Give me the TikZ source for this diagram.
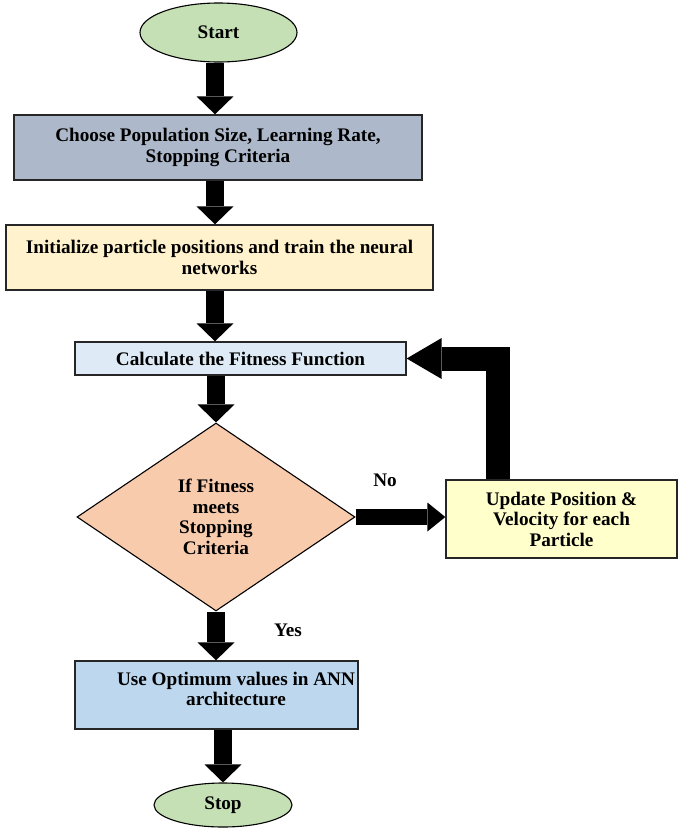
\documentclass[tikz,border=0pt]{standalone}
\usepackage{fontspec}
\setmainfont{Liberation Serif}
\usetikzlibrary{shapes.geometric,arrows.meta}
\definecolor{cgreen}{HTML}{C5E0B4}
\definecolor{cslate}{HTML}{ADB9CA}
\definecolor{ccream}{HTML}{FFF2CC}
\definecolor{cpale}{HTML}{DEEBF7}
\definecolor{cpeach}{HTML}{F8CBAD}
\definecolor{cyell}{HTML}{FFFFCC}
\definecolor{cblue}{HTML}{BDD7EE}
\begin{document}
\begin{tikzpicture}[x=1pt,y=-1pt,
  every node/.style={font=\bfseries\fontsize{19.2}{20.5}\selectfont, align=center, inner sep=0pt},
  procbox/.style={draw=black!85, line width=1.3pt, rectangle},
  termin/.style={draw=black, line width=1.1pt, ellipse, fill=cgreen},
  decis/.style={draw=black, line width=1.1pt, diamond, fill=cpeach},
  blk/.style={line width=18pt, line cap=butt, -{Triangle[length=18pt,width=37pt,line width=0pt]}},
  noarrow/.style={line width=16pt, line cap=butt, -{Triangle[length=18pt,width=29pt,line width=0pt]}},
  looparrow/.style={line width=24pt, line cap=butt, line join=miter, -{Triangle[length=35pt,width=41pt,line width=0pt]}},
  lbl/.style={font=\bfseries\fontsize{19.2}{20.5}\selectfont}
]
\useasboundingbox (0,0) rectangle (678,828);

\node[termin, minimum width=157pt, minimum height=59pt] (start) at (218.5,32.5) {Start};
\node[procbox, fill=cslate, minimum width=408pt, minimum height=65pt] (b1) at (218,147.5)
  {Choose Population Size, Learning Rate,\\Stopping Criteria};
\node[procbox, fill=ccream, minimum width=427pt, minimum height=65pt] (b2) at (219.5,257.5)
  {Initialize particle positions and train the neural\\networks};
\node[procbox, fill=cpale, minimum width=331pt, minimum height=33pt] (b3) at (240.5,358.5)
  {Calculate the Fitness Function};
\node[decis, minimum width=278pt, minimum height=188pt] (dia) at (216,517)
  {If Fitness\\meets\\Stopping\\Criteria};
\node[procbox, fill=cyell, minimum width=231pt, minimum height=78pt] (upd) at (561.5,519)
  {Update Position \&\\Velocity for each\\Particle};
\node[procbox, fill=cblue, minimum width=283pt, minimum height=68pt] (b5) at (216.5,695) {};
\node (b5t) at (236,689) {Use Optimum values in ANN\\architecture};
\node[termin, minimum width=138pt, minimum height=44pt] (stop) at (223,805) {Stop};

\node[lbl] (no) at (385,480) {No};
\node[lbl] (yes) at (288,630) {Yes};

\coordinate (col) at (215,0);
\coordinate (loopc) at (497.5,0);

\draw[blk] (start.south -| col) -- (b1.north -| col);
\draw[blk] (b1.south -| col) -- (b2.north -| col);
\draw[blk] (b2.south -| col) -- (b3.north -| col);
\draw[blk] (b3.south -| dia.north) -- (dia.north);
\draw[blk] (dia.south) -- (b5.north -| dia.south);
\draw[blk] (b5.south -| stop.north) -- (stop.north);
\draw[noarrow] (dia.east) -- (upd.west |- dia.east);
\draw[looparrow] (upd.north -| loopc) |- (b3.east);
\end{tikzpicture}
\end{document}
